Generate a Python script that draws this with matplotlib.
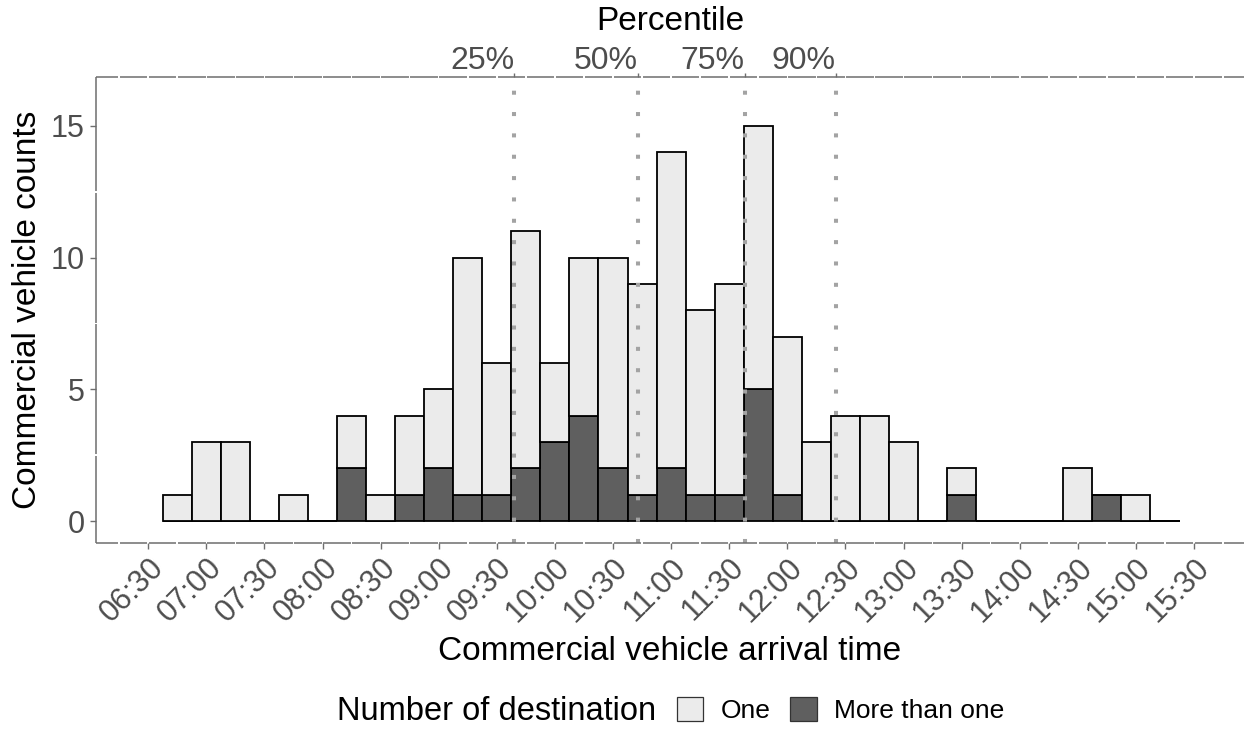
import numpy as np
import matplotlib.pyplot as plt
from matplotlib.patches import Patch

plt.rcParams["font.family"] = ["Liberation Sans", "DejaVu Sans"]

# --- Arrival counts per 15-minute bin (bin centres) ---
bin_centers = [
    "06:45", "07:00", "07:15", "07:30", "07:45", "08:00", "08:15", "08:30",
    "08:45", "09:00", "09:15", "09:30", "09:45", "10:00", "10:15", "10:30",
    "10:45", "11:00", "11:15", "11:30", "11:45", "12:00", "12:15", "12:30",
    "12:45", "13:00", "13:15", "13:30", "13:45", "14:00", "14:15", "14:30",
    "14:45", "15:00", "15:15",
]
one_destination = [
    1, 3, 3, 0, 1, 0, 2, 1, 3, 3, 9, 5, 9, 3, 6, 8, 8, 12,
    7, 8, 10, 6, 3, 4, 4, 3, 0, 1, 0, 0, 0, 2, 0, 1, 0,
]
multi_destination = [
    0, 0, 0, 0, 0, 0, 2, 0, 1, 2, 1, 1, 2, 3, 4, 2, 1, 2,
    1, 1, 5, 1, 0, 0, 0, 0, 0, 1, 0, 0, 0, 0, 1, 0, 0,
]
bin_minutes = 15

time_ticks = [
    "06:30", "07:00", "07:30", "08:00", "08:30", "09:00", "09:30", "10:00",
    "10:30", "11:00", "11:30", "12:00", "12:30", "13:00", "13:30", "14:00",
    "14:30", "15:00", "15:30",
]
count_ticks = [0, 5, 10, 15]

percentile_labels = ["25%", "50%", "75%", "90%"]
percentile_times = ["09:39", "10:43", "11:38", "12:25"]

LIGHT = "#EBEBEB"
DARK = "#5F5F5F"
AXIS_GREY = "#6E6E6E"
TEXT_GREY = "#4D4D4D"


def to_minutes(hhmm):
    h, m = hhmm.split(":")
    return int(h) * 60 + int(m)


def broken_axis_line(ax, side, anchor, step, gap):
    """ggplot-style axis line, drawn in short pieces between break positions."""
    horizontal = side in ("bottom", "top")
    lo, hi = ax.get_xlim() if horizontal else ax.get_ylim()
    k0 = np.ceil((lo - anchor) / step)
    k1 = np.floor((hi - anchor) / step)
    cuts = anchor + step * np.arange(k0, k1 + 1)
    edges = [lo] + list(cuts) + [hi]
    for a, b in zip(edges[:-1], edges[1:]):
        a2 = a if a == lo else a + gap / 2
        b2 = b if b == hi else b - gap / 2
        if horizontal:
            y = 0 if side == "bottom" else 1
            ax.plot([a2, b2], [y, y], transform=ax.get_xaxis_transform(),
                    color=AXIS_GREY, lw=1.1, clip_on=False,
                    solid_capstyle="butt", zorder=5)
        else:
            ax.plot([0, 0], [a2, b2], transform=ax.get_yaxis_transform(),
                    color=AXIS_GREY, lw=1.1, clip_on=False,
                    solid_capstyle="butt", zorder=5)


x = np.array([to_minutes(t) for t in bin_centers])
one = np.array(one_destination)
multi = np.array(multi_destination)

fig = plt.figure(figsize=(12.44, 7.32), dpi=100)
ax = fig.add_axes([96 / 1244, 189 / 732, 1148 / 1244, 466 / 732])

# stacked histogram: "More than one" at the bottom, "One" on top
ax.bar(x, multi, width=bin_minutes, color=DARK, edgecolor="black",
       linewidth=1.3, zorder=2)
ax.bar(x, one, width=bin_minutes, bottom=multi, color=LIGHT,
       edgecolor="black", linewidth=1.3, zorder=2)

pct_x = [to_minutes(t) for t in percentile_times]
for px in pct_x:
    ax.axvline(px, color="#A3A3A3", lw=2.9, linestyle=(0, (1, 4.3)),
               dash_capstyle="butt", zorder=4)

ax.set_xlim(363.05, 955.8)
ax.set_ylim(-0.835, 16.86)

ax.set_xticks([to_minutes(t) for t in time_ticks])
ax.set_xticklabels(time_ticks, rotation=45, ha="right", va="top",
                   rotation_mode="anchor")
ax.set_yticks(count_ticks)
ax.tick_params(axis="both", direction="out", length=4, width=1,
               color=AXIS_GREY, labelcolor=TEXT_GREY, labelsize=22)
ax.tick_params(axis="x", pad=3)
ax.tick_params(axis="y", pad=4)
for s in ax.spines.values():
    s.set_visible(False)

ax.set_xlabel("Commercial vehicle arrival time", fontsize=24)
ax.xaxis.label.set_va("center")
ax.xaxis.set_label_coords(0.5, -(651 - 543) / 466)
ax.set_ylabel("Commercial vehicle counts", fontsize=24)
ax.yaxis.label.set_va("center")
ax.yaxis.set_label_coords(-(96 - 28) / 1148, (543 - 310) / 466)

# percentile axis on top
sec = ax.secondary_xaxis("top")
sec.set_xticks(pct_x)
sec.set_xticklabels(percentile_labels, ha="right")
sec.tick_params(direction="out", length=3, width=1, color=AXIS_GREY,
                labelcolor=TEXT_GREY, labelsize=23, pad=-2)
for s in sec.spines.values():
    s.set_visible(False)
fig.text(670 / 1244, 1 - 22 / 732, "Percentile", fontsize=24,
         ha="center", va="center")

broken_axis_line(ax, "bottom", to_minutes("06:30"), bin_minutes, 0.8)
broken_axis_line(ax, "top", to_minutes("06:30"), bin_minutes, 0.8)
broken_axis_line(ax, "left", 2.5, 5, 0.06)

# legend along the bottom
fig.text(337 / 1244, 1 - 711 / 732, "Number of destination", fontsize=23.5,
         ha="left", va="center")
handles = [Patch(facecolor=LIGHT, edgecolor="#333333", linewidth=0.9),
           Patch(facecolor=DARK, edgecolor="#333333", linewidth=0.9)]
fig.legend(handles, ["One", "More than one"], loc="center left",
           bbox_to_anchor=(677 / 1244, 1 - 710 / 732), ncol=2, frameon=False,
           fontsize=19, handlelength=1.0, handleheight=1.0,
           handletextpad=0.65, columnspacing=0.75, borderpad=0,
           borderaxespad=0)

fig.savefig("out.png", dpi=100)
